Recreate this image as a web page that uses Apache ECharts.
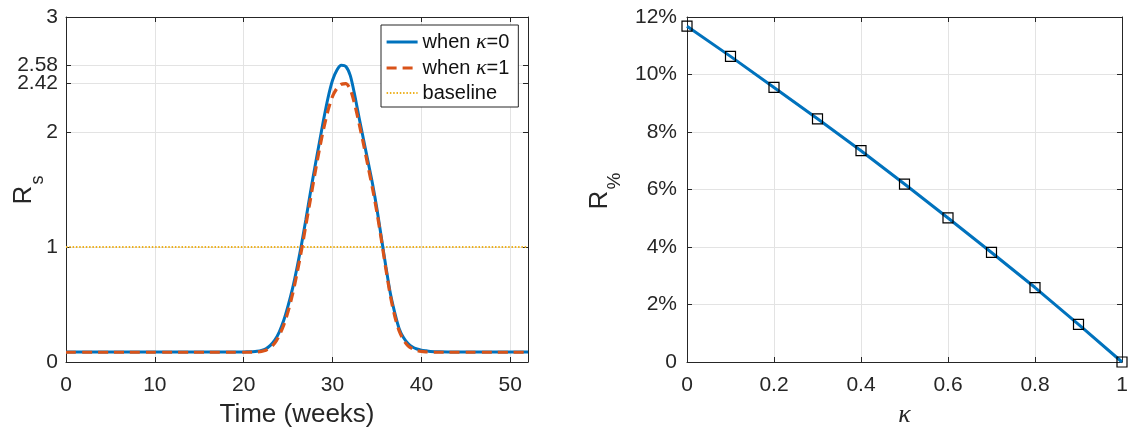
<!DOCTYPE html>
<html>
<head>
<meta charset="utf-8">
<script src="https://cdn.jsdelivr.net/npm/echarts@6/dist/echarts.min.js"></script>
<style>
  html, body { margin: 0; padding: 0; background: #fff; }
  #chart { width: 1135px; height: 430px; }
</style>
</head>
<body>
<div id="chart"></div>
<script>
// ---- Left panel: reproduction number over one year ----
const weeks = [
  0, 1, 2, 3, 4, 5, 6, 7, 8, 9, 10, 11, 12, 13, 14, 15, 16, 17, 18, 19, 20,
  20.5, 21, 21.5, 22, 22.5, 23, 23.5, 24, 24.5, 25, 25.5, 26, 26.5, 27, 27.5,
  28, 28.5, 29, 29.5, 30, 30.5, 31, 31.5, 32, 32.5, 33, 33.5, 34, 34.5, 35,
  35.5, 36, 36.5, 37, 37.5, 38, 38.5, 39, 39.5, 40, 40.5, 41, 41.5, 42,
  43, 44, 45, 46, 47, 48, 49, 50, 51, 52
];
const rsKappa0 = [
  0.088, 0.088, 0.088, 0.088, 0.088, 0.088, 0.088, 0.088, 0.088, 0.088, 0.088,
  0.088, 0.088, 0.088, 0.088, 0.088, 0.088, 0.088, 0.088, 0.088, 0.088,
  0.089, 0.09, 0.093, 0.10, 0.115, 0.145, 0.19, 0.26, 0.36, 0.49, 0.64, 0.82,
  1.02, 1.24, 1.47, 1.69, 1.90, 2.11, 2.30, 2.45, 2.54, 2.58, 2.57, 2.49,
  2.32, 2.12, 1.93, 1.74, 1.55, 1.33, 1.08, 0.83, 0.60, 0.43, 0.29, 0.21,
  0.16, 0.13, 0.113, 0.103, 0.097, 0.092, 0.09, 0.089,
  0.088, 0.088, 0.088, 0.088, 0.088, 0.088, 0.088, 0.088, 0.088, 0.088
];
const rsKappa1 = [
  0.085, 0.085, 0.085, 0.085, 0.085, 0.085, 0.085, 0.085, 0.085, 0.085, 0.085,
  0.085, 0.085, 0.085, 0.085, 0.085, 0.085, 0.085, 0.085, 0.085, 0.085,
  0.085, 0.086, 0.088, 0.093, 0.103, 0.125, 0.165, 0.23, 0.32, 0.44, 0.59,
  0.77, 0.97, 1.19, 1.41, 1.63, 1.84, 2.03, 2.19, 2.31, 2.38, 2.415, 2.42,
  2.37, 2.24, 2.07, 1.89, 1.70, 1.51, 1.30, 1.06, 0.81, 0.58, 0.40, 0.27,
  0.19, 0.14, 0.115, 0.10, 0.092, 0.088, 0.086, 0.085, 0.085,
  0.085, 0.085, 0.085, 0.085, 0.085, 0.085, 0.085, 0.085, 0.085, 0.085
];
const baselineWeeks = [0, 52];
const baselineLevel = [1, 1];
const timeTicks = [0, 10, 20, 30, 40, 50];
const rsTicks = [0, 1, 2, 2.42, 2.58, 3];
const seriesNames = ['when κ=0', 'when κ=1', 'baseline'];

// ---- Right panel: reduction against kappa ----
const kappa = [0, 0.1, 0.2, 0.3, 0.4, 0.5, 0.6, 0.7, 0.8, 0.9, 1];
const reductionPct = [11.68, 10.63, 9.55, 8.46, 7.35, 6.19, 5.01, 3.81, 2.59, 1.31, 0];

const ink = '#262626';
const gridGray = '#e3e3e3';
const sans = "'Liberation Sans', Arial, Helvetica, sans-serif";
const serif = "'Liberation Serif', 'DejaVu Serif', serif";
const blue = '#0072BD';
const orange = '#D95319';
const gold = '#EDB120';

const pairs = (xs, ys) => xs.map((x, i) => [x, ys[i]]);

const labelStyle = { color: ink, fontFamily: sans, fontSize: 21 };
const tickStyle = { show: true, inside: true, length: 5, lineStyle: { color: ink, width: 1 } };
const lineStyleAxis = { show: true, onZero: false, lineStyle: { color: ink, width: 1 } };
const splitStyle = { show: true, lineStyle: { color: gridGray, width: 1 } };

// Frame axes on the far sides: inward ticks only, no labels
function frameAxis(gridIndex, position, min, max, extra) {
  return Object.assign({
    type: 'value', gridIndex, position, min, max,
    axisLine: lineStyleAxis,
    axisTick: tickStyle,
    axisLabel: { show: false },
    splitLine: { show: false }
  }, extra || {});
}

const option = {
  animation: false,
  backgroundColor: '#fff',
  grid: [
    { left: 66, top: 17, width: 462, height: 345, outerBoundsMode: 'none', containLabel: false },
    { left: 687, top: 17, width: 435, height: 345, outerBoundsMode: 'none', containLabel: false }
  ],
  xAxis: [
    {
      type: 'value', gridIndex: 0, position: 'bottom', min: 0, max: 52,
      name: 'Time (weeks)', nameLocation: 'middle', nameGap: 40,
      nameTextStyle: { color: ink, fontFamily: sans, fontSize: 26 },
      axisLine: lineStyleAxis,
      axisTick: Object.assign({ customValues: timeTicks }, tickStyle),
      axisLabel: Object.assign({ customValues: timeTicks, margin: 13 }, labelStyle),
      splitLine: splitStyle
    },
    frameAxis(0, 'top', 0, 52, { axisTick: Object.assign({ customValues: timeTicks }, tickStyle) }),
    {
      type: 'value', gridIndex: 1, position: 'bottom', min: 0, max: 1, interval: 0.2,
      name: 'κ', nameLocation: 'middle', nameGap: 40,
      nameTextStyle: { color: ink, fontFamily: serif, fontStyle: 'italic', fontSize: 26 },
      axisLine: lineStyleAxis,
      axisTick: tickStyle,
      axisLabel: Object.assign({ margin: 13 }, labelStyle),
      splitLine: splitStyle
    },
    frameAxis(1, 'top', 0, 1, { interval: 0.2 })
  ],
  yAxis: [
    {
      type: 'value', gridIndex: 0, position: 'left', min: 0, max: 3,
      axisLine: lineStyleAxis,
      axisTick: Object.assign({ customValues: rsTicks }, tickStyle),
      axisLabel: Object.assign({ customValues: rsTicks, margin: 8 }, labelStyle),
      splitLine: splitStyle
    },
    frameAxis(0, 'right', 0, 3, { axisTick: Object.assign({ customValues: rsTicks }, tickStyle) }),
    {
      type: 'value', gridIndex: 1, position: 'left', min: 0, max: 12, interval: 2,
      axisLine: lineStyleAxis,
      axisTick: tickStyle,
      axisLabel: Object.assign({
        margin: 10,
        formatter: v => (v === 0 ? '0' : v + '%')
      }, labelStyle),
      splitLine: splitStyle
    },
    frameAxis(1, 'right', 0, 12, { interval: 2 })
  ],
  legend: {
    data: [
      { name: seriesNames[0], lineStyle: { width: 3 } },
      { name: seriesNames[1], lineStyle: { width: 3.2 } },
      { name: seriesNames[2], lineStyle: { width: 1.8 } }
    ],
    orient: 'vertical',
    left: 381, top: 25,
    padding: [6, 9, 4, 4],
    itemWidth: 31, itemHeight: 14, itemGap: 4,
    borderColor: ink, borderWidth: 1, borderRadius: 0,
    backgroundColor: '#fff',
    selectedMode: false,
    itemStyle: { opacity: 0 },
    formatter: n => n.replace('κ', '{k|κ}'),
    textStyle: {
      color: '#111', fontFamily: sans, fontSize: 20,
      rich: { k: { fontFamily: serif, fontStyle: 'italic', fontSize: 22, color: '#111' } }
    }
  },
  graphic: [
    { type: 'text', x: 24, y: 195, rotation: Math.PI / 2,
      style: { text: 'R', font: '26px ' + sans, fill: ink, align: 'center', verticalAlign: 'middle' } },
    { type: 'text', x: 38, y: 180, rotation: Math.PI / 2,
      style: { text: 's', font: '18px ' + sans, fill: ink, align: 'center', verticalAlign: 'middle' } },
    { type: 'text', x: 600, y: 200, rotation: Math.PI / 2,
      style: { text: 'R', font: '26px ' + sans, fill: ink, align: 'center', verticalAlign: 'middle' } },
    { type: 'text', x: 615, y: 181, rotation: Math.PI / 2,
      style: { text: '%', font: '19px ' + sans, fill: ink, align: 'center', verticalAlign: 'middle' } }
  ],
  series: [
    {
      name: seriesNames[0], type: 'line', xAxisIndex: 0, yAxisIndex: 0,
      data: pairs(weeks, rsKappa0), symbol: 'none', smooth: 0.25,
      lineStyle: { color: blue, width: 3 }, itemStyle: { color: blue }, z: 3
    },
    {
      name: seriesNames[1], type: 'line', xAxisIndex: 0, yAxisIndex: 0,
      data: pairs(weeks, rsKappa1), symbol: 'none', smooth: 0.25,
      lineStyle: { color: orange, width: 3.2, type: [10, 6] }, itemStyle: { color: orange }, z: 4
    },
    {
      name: seriesNames[2], type: 'line', xAxisIndex: 0, yAxisIndex: 0,
      data: pairs(baselineWeeks, baselineLevel), symbol: 'none',
      lineStyle: { color: gold, width: 1.8, type: [1.5, 1.8] }, itemStyle: { color: gold }, z: 2
    },
    {
      name: 'reduction', type: 'line', xAxisIndex: 2, yAxisIndex: 2,
      data: pairs(kappa, reductionPct),
      symbol: 'rect', symbolSize: 10, showAllSymbol: true,
      lineStyle: { color: blue, width: 3 },
      itemStyle: { color: 'rgba(0,0,0,0)', borderColor: '#000', borderWidth: 1.2 },
      clip: false, z: 3
    }
  ]
};

const chart = echarts.init(document.getElementById('chart'), null, { renderer: 'canvas' });
chart.setOption(option);
</script>
</body>
</html>
